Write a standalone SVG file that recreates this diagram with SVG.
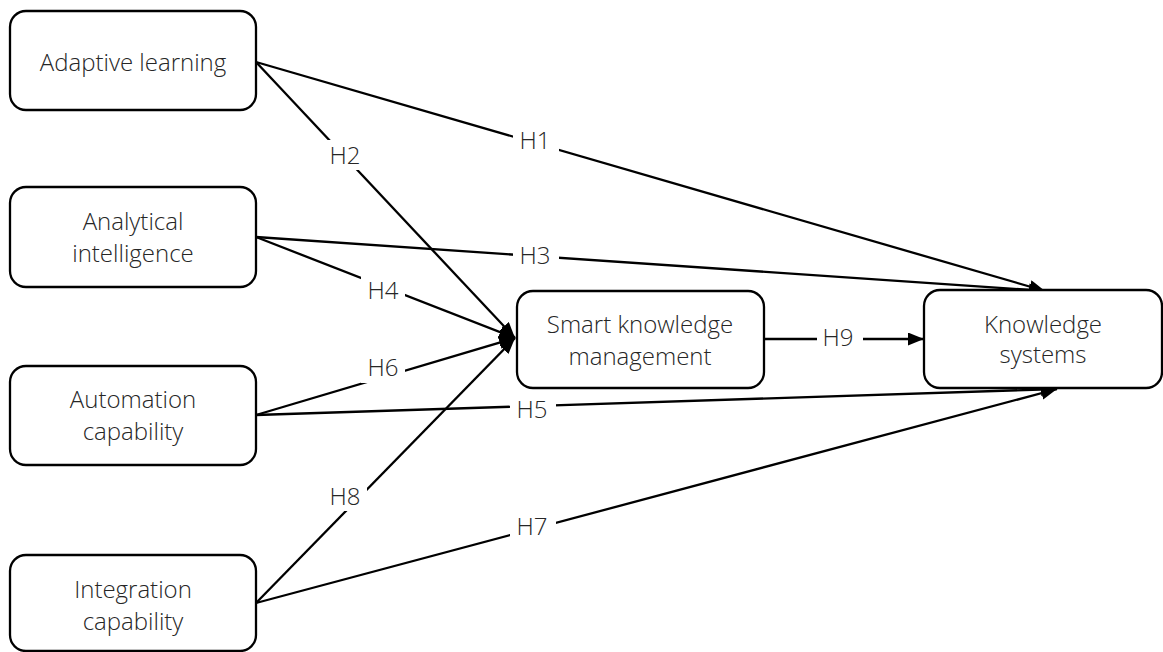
<svg xmlns="http://www.w3.org/2000/svg" width="1163" height="652" viewBox="0 0 1163 652">
<style>
  .box { fill: #ffffff; stroke: #000000; stroke-width: 2.3; }
  .t { font-family: "Open Sans", Lato, "Liberation Sans", sans-serif; font-weight: 300; font-size: 24px; fill: #262626; text-anchor: middle; }
  .edge { stroke: #000000; stroke-width: 2.3; fill: none; }
  .gap { fill: #ffffff; stroke: none; }
</style>
<defs>
  <marker id="arr" markerUnits="userSpaceOnUse" markerWidth="17" markerHeight="14" refX="16" refY="6.5" orient="auto">
    <path d="M0,0 L16,6.5 L0,13 Z" fill="#000000"/>
  </marker>
</defs>
<rect width="1163" height="652" fill="#ffffff"/>
<g id="connectors">
  <line class="edge" x1="256" y1="62" x2="1045" y2="291" marker-end="url(#arr)"/>
  <line class="edge" x1="256" y1="62" x2="515" y2="338" marker-end="url(#arr)"/>
  <line class="edge" x1="256" y1="237" x2="1045" y2="291" marker-end="url(#arr)"/>
  <line class="edge" x1="256" y1="237" x2="515" y2="338" marker-end="url(#arr)"/>
  <line class="edge" x1="256" y1="415" x2="1057" y2="389" marker-end="url(#arr)"/>
  <line class="edge" x1="256" y1="415" x2="515" y2="338" marker-end="url(#arr)"/>
  <line class="edge" x1="256" y1="603" x2="1057" y2="389" marker-end="url(#arr)"/>
  <line class="edge" x1="256" y1="603" x2="515" y2="338" marker-end="url(#arr)"/>
  <line class="edge" x1="764" y1="339" x2="924" y2="339" marker-end="url(#arr)"/>
  <rect class="gap" x="513" y="127" width="46" height="30"/>
  <text class="t" x="535" y="149">H1</text>
  <rect class="gap" x="323" y="140" width="44" height="30"/>
  <text class="t" x="345" y="164">H2</text>
  <rect class="gap" x="513" y="241" width="46" height="30"/>
  <text class="t" x="535" y="264">H3</text>
  <rect class="gap" x="361" y="276" width="44" height="30"/>
  <text class="t" x="383" y="299">H4</text>
  <rect class="gap" x="510" y="396" width="46" height="30"/>
  <text class="t" x="532" y="418">H5</text>
  <rect class="gap" x="361" y="353" width="44" height="30"/>
  <text class="t" x="383" y="376">H6</text>
  <rect class="gap" x="510" y="511" width="46" height="30"/>
  <text class="t" x="532" y="535">H7</text>
  <rect class="gap" x="323" y="481" width="44" height="30"/>
  <text class="t" x="345" y="505">H8</text>
  <rect class="gap" x="817" y="324" width="46" height="30"/>
  <text class="t" x="838" y="346">H9</text>
</g>
<g id="adaptive">
  <rect class="box" x="10" y="11" width="246" height="99" rx="16"/>
  <text class="t" x="133" y="71">Adaptive learning</text>
</g>
<g id="analytical">
  <rect class="box" x="10" y="187" width="246" height="100" rx="16"/>
  <text class="t" x="133" y="230">Analytical</text>
  <text class="t" x="133" y="262">intelligence</text>
</g>
<g id="automation">
  <rect class="box" x="10" y="366" width="246" height="99" rx="16"/>
  <text class="t" x="133" y="408">Automation</text>
  <text class="t" x="133" y="440">capability</text>
</g>
<g id="integration">
  <rect class="box" x="10" y="555" width="246" height="96" rx="16"/>
  <text class="t" x="133" y="598">Integration</text>
  <text class="t" x="133" y="630">capability</text>
</g>
<g id="smart">
  <rect class="box" x="517" y="291" width="247" height="97" rx="16"/>
  <text class="t" x="640" y="333">Smart knowledge</text>
  <text class="t" x="640" y="365">management</text>
</g>
<g id="knowledge">
  <rect class="box" x="924" y="290" width="238" height="98" rx="16"/>
  <text class="t" x="1043" y="333">Knowledge</text>
  <text class="t" x="1043" y="363">systems</text>
</g>
</svg>
